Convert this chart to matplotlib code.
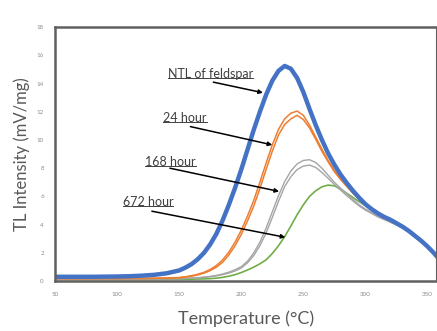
import matplotlib
matplotlib.use("Agg")
import matplotlib.pyplot as plt

# -------------------------
# Data
# -------------------------
temps = [50, 60, 70, 80, 90, 100, 110, 120, 130, 140, 150,
         155, 160, 165, 170, 175, 180, 185, 190, 195, 200,
         205, 210, 215, 220, 225, 230, 235, 240, 245, 250,
         255, 260, 265, 270, 275, 280, 285, 290, 295, 300,
         305, 310, 315, 320, 325, 330, 335, 340, 345, 350,
         355, 357]

ntl = [0.30, 0.30, 0.30, 0.30, 0.31, 0.32, 0.34, 0.38, 0.44, 0.55, 0.75,
       0.95, 1.20, 1.55, 2.00, 2.60, 3.35, 4.30, 5.40, 6.60, 7.90,
       9.30, 10.70, 12.00, 13.20, 14.20, 14.90, 15.25, 15.05, 14.40, 13.40,
       12.20, 11.05, 10.00, 9.05, 8.25, 7.55, 6.95, 6.40, 5.90, 5.45,
       5.10, 4.80, 4.55, 4.35, 4.10, 3.85, 3.55, 3.20, 2.85, 2.45,
       2.00, 1.80]

h24_a = [0.18, 0.18, 0.18, 0.18, 0.18, 0.18, 0.19, 0.19, 0.20, 0.22, 0.25,
         0.30, 0.38, 0.48, 0.62, 0.82, 1.10, 1.50, 2.05, 2.75, 3.60,
         4.60, 5.70, 7.00, 8.35, 9.65, 10.75, 11.50, 11.90, 12.05, 11.75,
         11.05, 10.20, 9.35, 8.55, 7.85, 7.30, 6.80, 6.30, 5.85, 5.42,
         5.08, 4.78, 4.52, 4.32, 4.08, 3.83, 3.53, 3.18, 2.83, 2.43,
         1.98, 1.78]

h24_b = [0.17, 0.17, 0.17, 0.17, 0.17, 0.17, 0.18, 0.18, 0.19, 0.21, 0.23,
         0.28, 0.34, 0.43, 0.56, 0.74, 0.98, 1.33, 1.85, 2.50, 3.30,
         4.25, 5.30, 6.55, 7.90, 9.20, 10.35, 11.10, 11.50, 11.75, 11.45,
         10.85, 10.05, 9.20, 8.45, 7.75, 7.20, 6.70, 6.22, 5.78, 5.38,
         5.05, 4.75, 4.50, 4.30, 4.06, 3.81, 3.51, 3.16, 2.81, 2.41,
         1.96, 1.76]

h168_a = [0.14, 0.14, 0.14, 0.14, 0.14, 0.14, 0.14, 0.15, 0.15, 0.16, 0.17,
          0.19, 0.21, 0.24, 0.28, 0.33, 0.40, 0.50, 0.63, 0.80, 1.02,
          1.40, 1.98, 2.75, 3.75, 4.90, 6.05, 7.05, 7.80, 8.30, 8.55,
          8.60, 8.40, 8.00, 7.50, 7.00, 6.58, 6.18, 5.78, 5.40, 5.10,
          4.85, 4.60, 4.40, 4.20, 4.00, 3.77, 3.48, 3.14, 2.80, 2.40,
          1.96, 1.76]

h168_b = [0.13, 0.13, 0.13, 0.13, 0.13, 0.13, 0.13, 0.14, 0.14, 0.15, 0.16,
          0.18, 0.20, 0.22, 0.26, 0.30, 0.36, 0.45, 0.56, 0.71, 0.92,
          1.28, 1.80, 2.50, 3.40, 4.50, 5.65, 6.70, 7.40, 7.90, 8.15,
          8.22, 8.05, 7.70, 7.28, 6.85, 6.45, 6.05, 5.68, 5.32, 5.03,
          4.79, 4.55, 4.36, 4.17, 3.98, 3.75, 3.46, 3.12, 2.78, 2.38,
          1.94, 1.74]

h672 = [0.10, 0.10, 0.10, 0.10, 0.10, 0.10, 0.10, 0.10, 0.10, 0.11, 0.11,
        0.12, 0.13, 0.14, 0.15, 0.17, 0.20, 0.26, 0.34, 0.45, 0.60,
        0.78, 0.98, 1.22, 1.50, 1.95, 2.50, 3.15, 3.90, 4.70, 5.40,
        6.00, 6.40, 6.68, 6.80, 6.75, 6.52, 6.22, 5.92, 5.62, 5.35,
        5.05, 4.78, 4.53, 4.32, 4.08, 3.82, 3.52, 3.17, 2.82, 2.42,
        1.97, 1.77]

# annotation labels: (label, text pos, arrow tail, arrow head)
labels = ["NTL of feldspar", "24 hour", "168 hour", "672 hour"]
text_pos = [(141, 14.68), (137, 11.56), (122.5, 8.44), (104.5, 5.6)]
arrow_tail = [(177.5, 14.1), (159, 10.95), (142.5, 8.0), (128, 4.95)]
arrow_head = [(217.5, 13.35), (225, 9.65), (230.5, 6.35), (235.5, 3.1)]

# -------------------------
# Plot
# -------------------------
plt.rcParams["font.family"] = "Lato"

fig = plt.figure(figsize=(4.37, 3.31), dpi=100)
ax = fig.add_axes([0.126, 0.151, 0.872, 0.767])

ax.plot(temps, h672, color="#70AD47", lw=1.2)
ax.plot(temps, h168_b, color="#A5A5A5", lw=1.0)
ax.plot(temps, h168_a, color="#A5A5A5", lw=1.0)
ax.plot(temps, h24_b, color="#ED7D31", lw=1.1)
ax.plot(temps, h24_a, color="#ED7D31", lw=1.1)
ax.plot(temps, ntl, color="#4472C4", lw=3.2)

texts = []
for lab, tp, tail, head in zip(labels, text_pos, arrow_tail, arrow_head):
    t = ax.text(tp[0], tp[1], lab, fontsize=9, color="#404040", va="center", ha="left")
    texts.append(t)
    ax.annotate("", xy=head, xytext=tail,
                arrowprops=dict(arrowstyle="-|>", color="black", lw=1.1,
                                mutation_scale=6, shrinkA=0, shrinkB=0))

# -------------------------
# Styling
# -------------------------
ax.set_xlim(50, 357)
ax.set_ylim(0, 18)
ax.set_xticks([50, 100, 150, 200, 250, 300, 350])
ax.set_yticks(range(0, 19, 2))
ax.tick_params(length=0, labelsize=4.5, labelcolor="#8c8c8c")
ax.tick_params(axis="x", pad=8)
ax.tick_params(axis="y", pad=8)

for side in ["left", "bottom", "top"]:
    ax.spines[side].set_color("#606060")
    ax.spines[side].set_linewidth(1.8)
ax.spines["right"].set_color("#606060")
ax.spines["right"].set_linewidth(0.8)

ax.set_xlabel("Temperature (°C)", fontsize=13, color="#595959")
ax.set_ylabel("TL Intensity (mV/mg)", fontsize=12, color="#595959")
ax.xaxis.set_label_coords(0.5, -0.115)
ax.yaxis.set_label_coords(-0.066, 0.5)

# underline the annotation texts
fig.canvas.draw()
inv = ax.transData.inverted()
for t in texts:
    bb = t.get_window_extent()
    (x0, y0), (x1, _) = inv.transform([(bb.x0, bb.y0 + 2), (bb.x1, bb.y0 + 2)])
    ax.plot([x0, x1], [y0, y0], color="#404040", lw=0.7)

plt.savefig("out.png", dpi=100)
plt.close()
